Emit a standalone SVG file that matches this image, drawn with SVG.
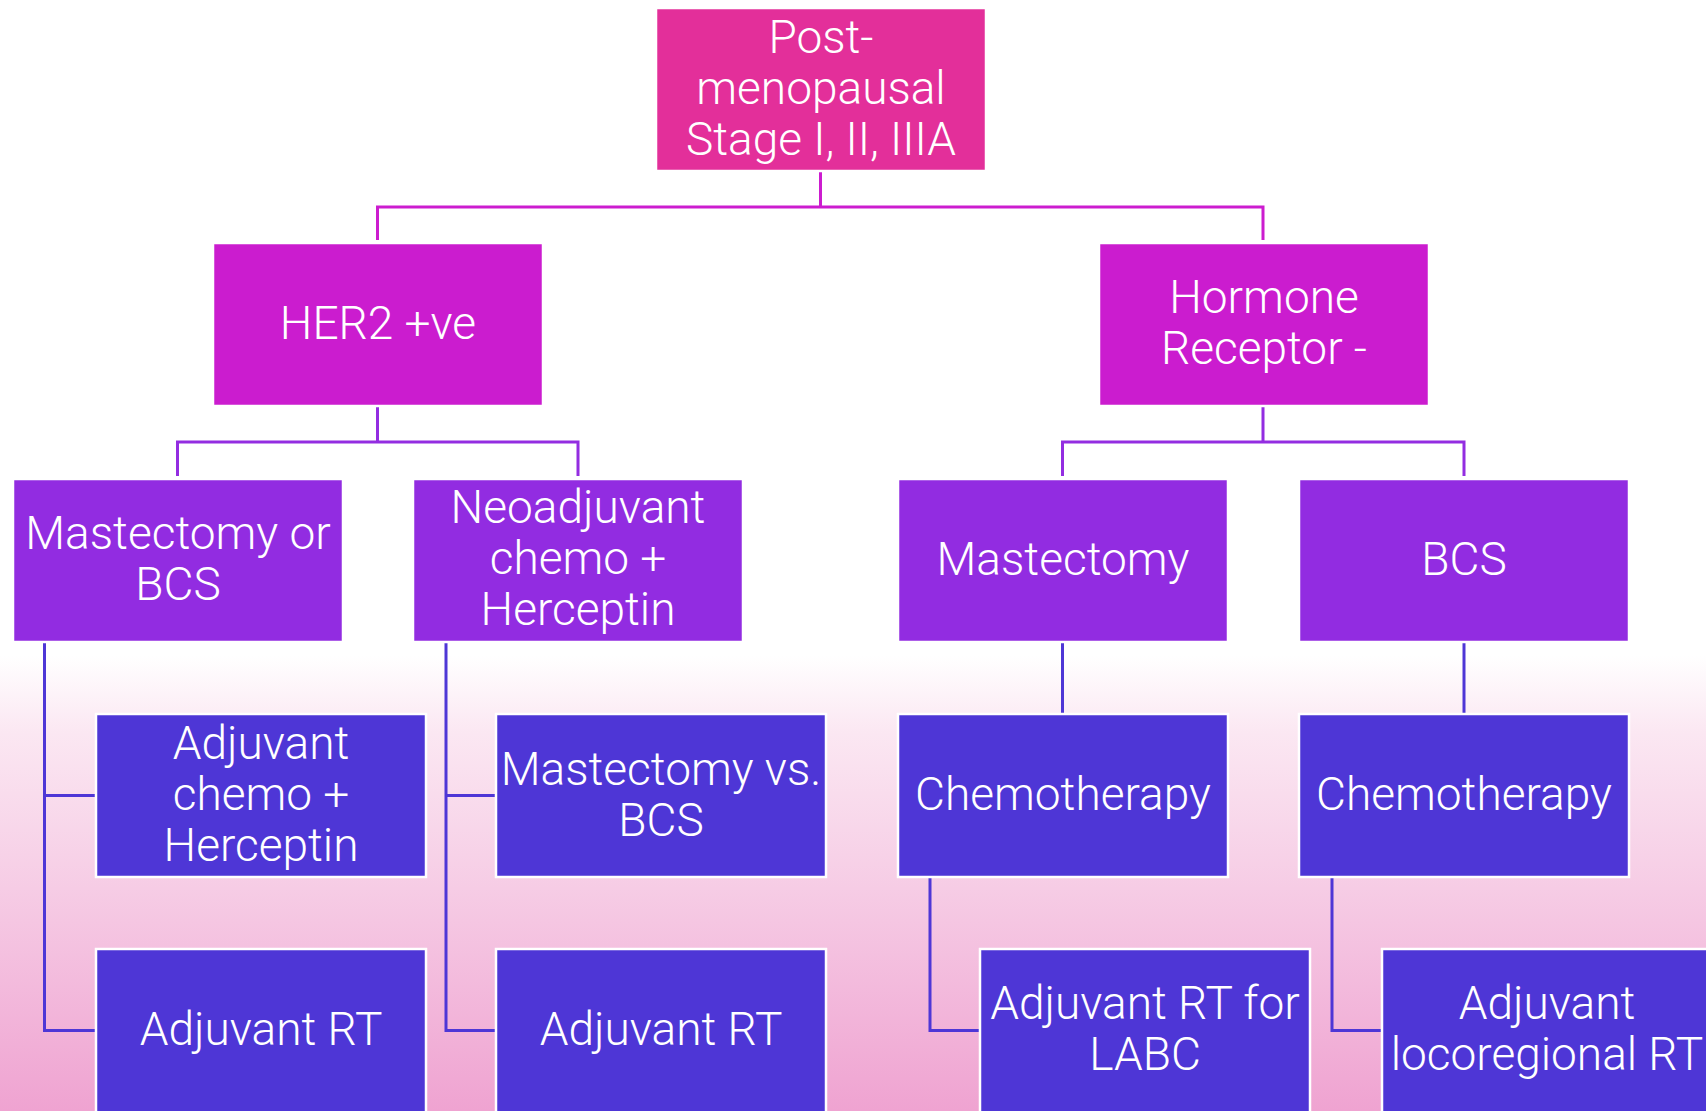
<svg xmlns="http://www.w3.org/2000/svg" width="1706" height="1111" viewBox="0 0 1706 1111">
<defs>
<linearGradient id="bg" x1="0" y1="0" x2="0" y2="1">
<stop offset="0" stop-color="#ffffff"/>
<stop offset="0.59" stop-color="#ffffff"/>
<stop offset="0.66" stop-color="#fbe7f2"/>
<stop offset="0.8" stop-color="#f6cce5"/>
<stop offset="1" stop-color="#efa3d1"/>
</linearGradient>
<style>
.box{stroke:#ffffff;stroke-width:2.5}
.c0{fill:#e32f9a}
.c1{fill:#cb1ccf}
.c2{fill:#922ce1}
.c3{fill:#4e36d6}
.t{font-family:Roboto,"Liberation Sans",Arial,sans-serif;font-size:46px;font-weight:300;fill:#ffffff;text-anchor:middle}
.k0{fill:none;stroke:#cc1ccf;stroke-width:3}
.k1{fill:none;stroke:#932de1;stroke-width:3}
.k2{fill:none;stroke:#4e36d6;stroke-width:3}
</style>
</defs>
<rect x="0" y="0" width="1706" height="1111" fill="url(#bg)"/>
<g id="connectors">
<path class="k0" d="M820.5 171 V207 M377.5 240 V207 H1263 V240"/>
<path class="k1" d="M377.5 406 V442 M177.5 476 V442 H578 V476"/>
<path class="k1" d="M1263 406 V442 M1062.5 476 V442 H1464 V476"/>
<path class="k2" d="M44.5 642 V1030.5 H96 M44.5 795.5 H96"/>
<path class="k2" d="M446 642 V1030.5 H496 M446 795.5 H496"/>
<path class="k2" d="M1062.5 642 V714"/>
<path class="k2" d="M1464 642 V714"/>
<path class="k2" d="M930 877 V1030.5 H980"/>
<path class="k2" d="M1332 877 V1030.5 H1382"/>
</g>
<g id="root"><rect class="box c0" x="656" y="8" width="330" height="163"/>
<text class="t"><tspan x="821" y="53">Post-</tspan><tspan x="821" y="104">menopausal</tspan><tspan x="821" y="155">Stage I, II, IIIA</tspan></text></g>
<g id="her2"><rect class="box c1" x="213" y="243" width="330" height="163"/>
<text class="t" x="378" y="339">HER2 +ve</text></g>
<g id="hormone"><rect class="box c1" x="1099" y="243" width="330" height="163"/>
<text class="t"><tspan x="1264" y="313">Hormone</tspan><tspan x="1264" y="364">Receptor -</tspan></text></g>
<g id="mast-or-bcs"><rect class="box c2" x="13" y="479" width="330" height="163"/>
<text class="t"><tspan x="178" y="549">Mastectomy or</tspan><tspan x="178" y="600">BCS</tspan></text></g>
<g id="neoadjuvant"><rect class="box c2" x="413" y="479" width="330" height="163"/>
<text class="t"><tspan x="578" y="523">Neoadjuvant</tspan><tspan x="578" y="574">chemo +</tspan><tspan x="578" y="625">Herceptin</tspan></text></g>
<g id="mastectomy"><rect class="box c2" x="898" y="479" width="330" height="163"/>
<text class="t" x="1063" y="575">Mastectomy</text></g>
<g id="bcs"><rect class="box c2" x="1299" y="479" width="330" height="163"/>
<text class="t" x="1464" y="575">BCS</text></g>
<g id="adj-chemo"><rect class="box c3" x="96" y="714" width="330" height="163"/>
<text class="t"><tspan x="261" y="759">Adjuvant</tspan><tspan x="261" y="810">chemo +</tspan><tspan x="261" y="861">Herceptin</tspan></text></g>
<g id="mast-vs-bcs"><rect class="box c3" x="496" y="714" width="330" height="163"/>
<text class="t"><tspan x="661" y="785">Mastectomy vs.</tspan><tspan x="661" y="836">BCS</tspan></text></g>
<g id="chemo1"><rect class="box c3" x="898" y="714" width="330" height="163"/>
<text class="t" x="1063" y="810">Chemotherapy</text></g>
<g id="chemo2"><rect class="box c3" x="1299" y="714" width="330" height="163"/>
<text class="t" x="1464" y="810">Chemotherapy</text></g>
<g id="adj-rt1"><rect class="box c3" x="96" y="949" width="330" height="165"/>
<text class="t" x="261" y="1045">Adjuvant RT</text></g>
<g id="adj-rt2"><rect class="box c3" x="496" y="949" width="330" height="165"/>
<text class="t" x="661" y="1045">Adjuvant RT</text></g>
<g id="adj-rt-labc"><rect class="box c3" x="980" y="949" width="330" height="165"/>
<text class="t"><tspan x="1145" y="1019">Adjuvant RT for</tspan><tspan x="1145" y="1070">LABC</tspan></text></g>
<g id="adj-loco"><rect class="box c3" x="1382" y="949" width="330" height="165"/>
<text class="t"><tspan x="1547" y="1019">Adjuvant</tspan><tspan x="1547" y="1070">locoregional RT</tspan></text></g>
</svg>
